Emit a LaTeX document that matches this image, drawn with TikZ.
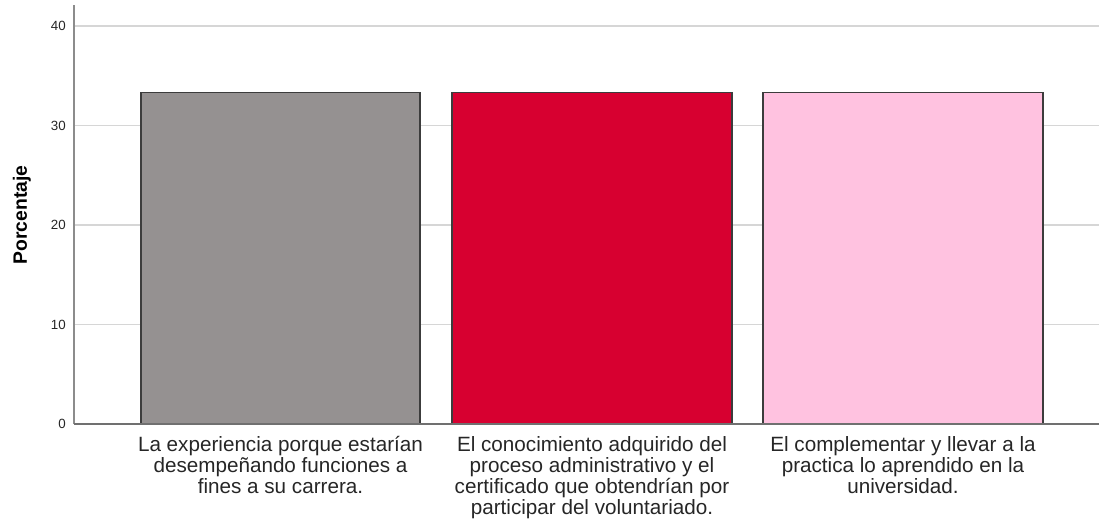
\documentclass[tikz,border=0pt]{standalone}
\usepackage{fontspec}
\setmainfont{Liberation Sans}
\definecolor{barGray}{HTML}{959191}
\definecolor{barRed}{HTML}{D70030}
\definecolor{barPink}{HTML}{FFC2E0}
\definecolor{gridGray}{HTML}{D6D6D6}
\definecolor{axisGray}{HTML}{8C8C8C}
\definecolor{edgeGray}{HTML}{3C3C3C}
\tikzset{
  bar/.style={draw=edgeGray, line width=0.8pt},
  gridline/.style={draw=gridGray, line width=1.1pt},
  ticklabel/.style={anchor=east, inner sep=0pt, font=\fontsize{10}{12}\selectfont, text=black!85},
  catlabel/.style={anchor=north, inner sep=0pt, align=center,
    font=\fontsize{15.5}{15.8}\selectfont, text=black!85},
}

\begin{document}
\begin{tikzpicture}[x=0.75pt, y=0.75pt]
\useasboundingbox (0,0) rectangle (1099,520);

% grid lines (10 % = 99.5 px, 0 at y = 96)
	\draw[gridline] (74,195.5) -- (1099,195.5);
	\draw[gridline] (74,295) -- (1099,295);
	\draw[gridline] (74,394.5) -- (1099,394.5);
	\draw[gridline] (74,494) -- (1099,494);

% bars (33.3 %)
\draw[bar, fill=barGray] (141,96) rectangle (420,427.7);
\draw[bar, fill=barRed] (452,96) rectangle (732,427.7);
\draw[bar, fill=barPink] (763,96) rectangle (1043,427.7);

% axes
	\draw[draw=axisGray, line width=1.1pt] (74,96) -- (74,515);
	\draw[draw=axisGray!80!black, line width=1.1pt] (74,96) -- (1099,96);

% tick labels
\node[ticklabel] (t0) at (66,96) {0};
\node[ticklabel] (t10) at (66,195.5) {10};
\node[ticklabel] (t20) at (66,295) {20};
\node[ticklabel] (t30) at (66,394.5) {30};
\node[ticklabel] (t40) at (66,494) {40};

% axis title
\node[rotate=90, inner sep=0pt, font=\fontsize{14.5}{16}\bfseries] (ytitle) at (22,305) {Porcentaje};

% category labels
\node[catlabel] (c1) at (280.5,84) {La experiencia porque estarían\\desempeñando funciones a\\fines a su carrera.};
\node[catlabel] (c2) at (592,84) {El conocimiento adquirido del\\proceso administrativo y el\\certificado que obtendrían por\\participar del voluntariado.};
\node[catlabel] (c3) at (903,84) {El complementar y llevar a la\\practica lo aprendido en la\\universidad.};

\end{tikzpicture}
\end{document}
